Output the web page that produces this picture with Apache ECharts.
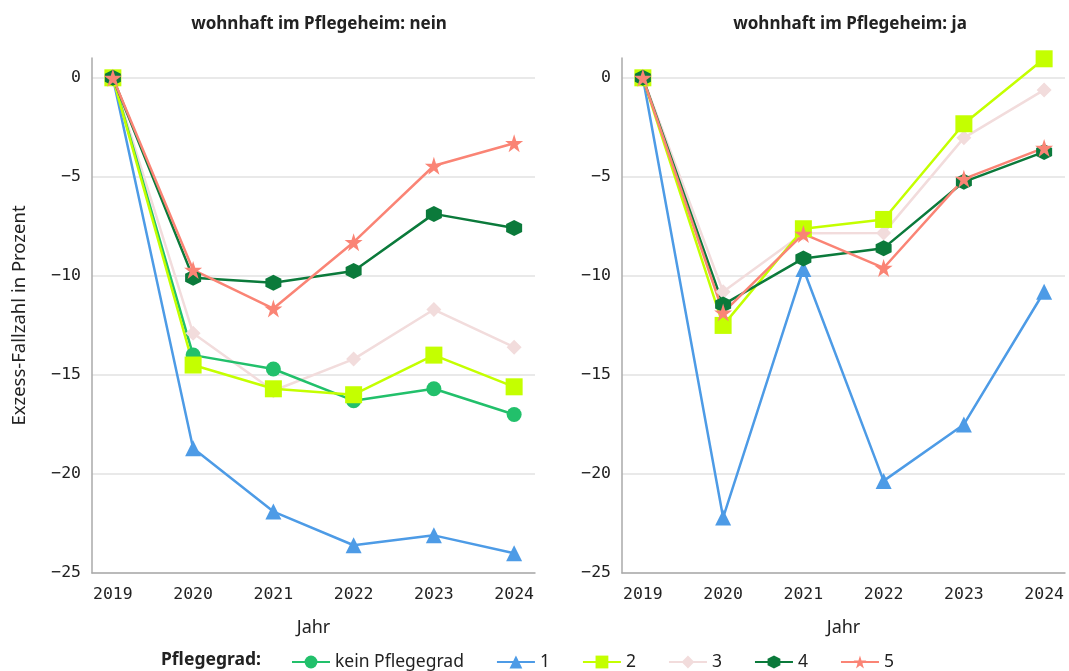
<!DOCTYPE html>
<html>
<head>
<meta charset="utf-8">
<script src="https://cdn.jsdelivr.net/npm/echarts@6/dist/echarts.min.js"></script>
<style>
  html, body { margin: 0; padding: 0; background: #fff; }
  #chart { width: 1069px; height: 671px; }
</style>
</head>
<body>
<div id="chart"></div>
<script>
const years = [2019, 2020, 2021, 2022, 2023, 2024]
const yTicks = [-25, -20, -15, -10, -5, 0]
const panelTitles = ['wohnhaft im Pflegeheim: nein', 'wohnhaft im Pflegeheim: ja']

// Pflegeheim: nein
const neinKein = [0, -14.0, -14.7, -16.3, -15.7, -17.0]
const nein1 = [0, -18.7, -21.9, -23.6, -23.1, -24.0]
const nein2 = [0, -14.5, -15.7, -16.0, -14.0, -15.6]
const nein3 = [0, -12.9, -15.8, -14.2, -11.7, -13.6]
const nein4 = [0, -10.1, -10.35, -9.75, -6.87, -7.58]
const nein5 = [0, -9.7, -11.65, -8.3, -4.44, -3.3]

// Pflegeheim: ja
const ja1 = [0, -22.2, -9.65, -20.35, -17.5, -10.8]
const ja2 = [0, -12.5, -7.62, -7.15, -2.32, 0.96]
const ja3 = [0, -10.8, -7.85, -7.83, -3.03, -0.61]
const ja4 = [0, -11.45, -9.12, -8.6, -5.25, -3.74]
const ja5 = [0, -11.85, -7.88, -9.6, -5.1, -3.54]

const hexagon = 'path://M0,-1L0.866,-0.5L0.866,0.5L0,1L-0.866,0.5L-0.866,-0.5Z'
const star = 'path://M0,-1L0.2245,-0.309L0.951,-0.309L0.363,0.118L0.588,0.809L0,0.382L-0.588,0.809L-0.363,0.118L-0.951,-0.309L-0.2245,-0.309Z'

const styles = {
  'kein Pflegegrad': { color: '#22c06b', symbol: 'circle', size: 15 },
  '1': { color: '#4d9be6', symbol: 'triangle', size: 16 },
  '2': { color: '#c4ff00', symbol: 'rect', size: 17 },
  '3': { color: '#f2dcdc', symbol: 'diamond', size: 15 },
  '4': { color: '#0b7a3b', symbol: hexagon, size: 16 },
  '5': { color: '#fa8475', symbol: star, size: 18 },
}

const tickFont = { fontFamily: 'DejaVu Sans Mono', fontSize: 16.5, color: '#222' }
const textFont = 'Noto Sans'

function makeSeries(name, values, idx) {
  const s = styles[name]
  return {
    name,
    type: 'line',
    xAxisIndex: idx,
    yAxisIndex: idx,
    data: years.map((y, i) => [y, values[i]]),
    symbol: s.symbol,
    symbolSize: s.size,
    color: s.color,
    lineStyle: { color: s.color, width: 2.5 },
    itemStyle: { color: s.color },
    z: 2,
  }
}

const series = [
  makeSeries('3', nein3, 0),
  makeSeries('kein Pflegegrad', neinKein, 0),
  makeSeries('1', nein1, 0),
  makeSeries('2', nein2, 0),
  makeSeries('4', nein4, 0),
  makeSeries('5', nein5, 0),
  makeSeries('3', ja3, 1),
  makeSeries('1', ja1, 1),
  makeSeries('2', ja2, 1),
  makeSeries('4', ja4, 1),
  makeSeries('5', ja5, 1),
]

const grids = [
  { left: 92, top: 58, width: 443, height: 515 },
  { left: 622, top: 58, width: 443, height: 515 },
]

const xAxes = grids.map((g, i) => ({
  type: 'value',
  gridIndex: i,
  min: 2018.74,
  max: 2024.26,
  name: 'Jahr',
  nameLocation: 'middle',
  nameGap: 46,
  nameTextStyle: { fontFamily: textFont, fontSize: 18, color: '#222' },
  axisLine: { show: true, onZero: false, lineStyle: { color: '#aaa', width: 1.5 } },
  axisTick: { show: false },
  splitLine: { show: false },
  axisLabel: {
    ...tickFont,
    margin: 13,
    customValues: years,
    formatter: (v) => String(v),
  },
}))

const yAxes = grids.map((g, i) => ({
  type: 'value',
  gridIndex: i,
  min: -25,
  max: 1,
  interval: 5,
  name: i === 0 ? 'Exzess-Fallzahl in Prozent' : '',
  nameLocation: 'middle',
  nameGap: 63,
  nameTextStyle: { fontFamily: textFont, fontSize: 18.5, color: '#222' },
  axisLine: { show: true, onZero: false, lineStyle: { color: '#aaa', width: 1.5 } },
  axisTick: { show: false },
  splitLine: { show: true, showMaxLine: false, lineStyle: { color: '#e2e2e2', width: 1.5 } },
  axisLabel: {
    ...tickFont,
    margin: 11,
    showMaxLabel: false,
    formatter: (v) => (yTicks.includes(v) ? String(v).replace('-', '\u2212') : ''),
  },
}))

const chart = echarts.init(document.getElementById('chart'), null, { renderer: 'canvas' })
chart.setOption({
  animation: false,
  backgroundColor: '#fff',
  title: [
    { text: panelTitles[0], left: 314, top: 11, textAlign: 'center',
      textStyle: { fontFamily: textFont, fontSize: 17, fontWeight: 'bold', color: '#222' } },
    { text: panelTitles[1], left: 845, top: 11, textAlign: 'center',
      textStyle: { fontFamily: textFont, fontSize: 17, fontWeight: 'bold', color: '#222' } },
    { text: 'Pflegegrad:', left: 156, top: 646,
      textStyle: { fontFamily: textFont, fontSize: 17.5, fontWeight: 'bold', color: '#222' } },
  ],
  legend: {
    data: ['kein Pflegegrad', '1', '2', '3', '4', '5'],
    left: 286,
    top: 648,
    itemWidth: 38,
    itemHeight: 16,
    itemGap: 32,
    textStyle: { fontFamily: textFont, fontSize: 17.5, color: '#222' },
  },
  grid: grids,
  xAxis: xAxes,
  yAxis: yAxes,
  series,
})
</script>
</body>
</html>
